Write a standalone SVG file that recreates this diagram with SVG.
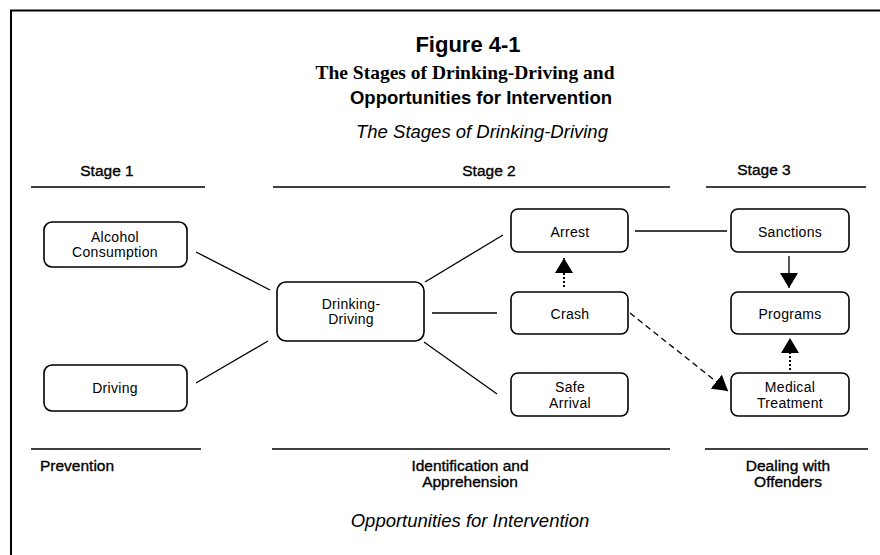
<svg xmlns="http://www.w3.org/2000/svg" width="880" height="555" viewBox="0 0 880 555">
  <style>
    .sans { font-family: "Liberation Sans", Arial, sans-serif; fill: #000; }
    .title { font-size: 22px; font-weight: bold; }
    .serifb { font-family: "Liberation Serif", "Times New Roman", serif; font-weight: bold; font-size: 19.5px; fill: #000; }
    .subb { font-size: 18.5px; font-weight: bold; }
    .ital { font-size: 18.5px; font-style: italic; }
    .head { font-size: 15.5px; stroke: #000; stroke-width: 0.35; }
    .lbl { font-size: 14px; letter-spacing: 0.3px; }
    .box { fill: #fff; stroke: #000; stroke-width: 1.6; }
    .rule { stroke: #000; stroke-width: 1.6; }
    .link { stroke: #000; stroke-width: 1.3; fill: none; }
    .dot { stroke: #000; stroke-width: 2; stroke-dasharray: 2 2; fill: none; }
    .dash { stroke: #000; stroke-width: 1.3; stroke-dasharray: 6 4; fill: none; }
  </style>
  <defs>
    <marker id="head" markerUnits="userSpaceOnUse" markerWidth="16" markerHeight="18" refX="15" refY="9" orient="auto">
      <path d="M0,0 L15,9 L0,18 Z" fill="#000"/>
    </marker>
  </defs>

  <rect width="880" height="555" fill="#fff"/>

  <!-- frame -->
  <path d="M11,555 V10.5 H880" fill="none" stroke="#000" stroke-width="2"/>

  <!-- titles -->
  <text class="sans title" x="468" y="52" text-anchor="middle">Figure 4-1</text>
  <text class="serifb" x="465" y="79" text-anchor="middle">The Stages of Drinking-Driving and</text>
  <text class="sans subb" x="481" y="104" text-anchor="middle">Opportunities for Intervention</text>
  <text class="sans ital" x="482" y="138" text-anchor="middle">The Stages of Drinking-Driving</text>

  <!-- stage headings -->
  <g id="stage-headings">
    <text class="sans head" x="107" y="176" text-anchor="middle">Stage 1</text>
    <text class="sans head" x="489" y="176" text-anchor="middle">Stage 2</text>
    <text class="sans head" x="764" y="175" text-anchor="middle">Stage 3</text>
    <line class="rule" x1="31" y1="187" x2="205" y2="187"/>
    <line class="rule" x1="273" y1="187" x2="670" y2="187"/>
    <line class="rule" x1="706" y1="187" x2="866" y2="187"/>
  </g>

  <!-- connectors -->
  <g id="connectors">
    <line class="link" x1="196" y1="252" x2="270" y2="290"/>
    <line class="link" x1="196" y1="383" x2="268" y2="341"/>
    <line class="link" x1="425" y1="282" x2="503" y2="235"/>
    <line class="link" x1="432" y1="313" x2="497" y2="313"/>
    <line class="link" x1="424" y1="342" x2="497" y2="394"/>
    <line class="link" x1="635" y1="231" x2="727" y2="231"/>
    <line class="dot" x1="564" y1="287" x2="564" y2="258" marker-end="url(#head)"/>
    <line class="link" x1="789" y1="256" x2="789" y2="288" marker-end="url(#head)"/>
    <line class="dot" x1="790" y1="370" x2="790" y2="338" marker-end="url(#head)"/>
    <line class="dash" x1="630" y1="313" x2="728" y2="391" marker-end="url(#head)"/>
  </g>

  <!-- nodes -->
  <g id="alcohol">
    <rect class="box" x="44" y="222" width="143" height="45" rx="8"/>
    <text class="sans lbl" x="115" y="242" text-anchor="middle">Alcohol</text>
    <text class="sans lbl" x="115" y="257" text-anchor="middle">Consumption</text>
  </g>
  <g id="driving">
    <rect class="box" x="44" y="365" width="143" height="46" rx="8"/>
    <text class="sans lbl" x="115" y="393" text-anchor="middle">Driving</text>
  </g>
  <g id="drinking-driving">
    <rect class="box" x="277" y="282" width="147" height="59" rx="9"/>
    <text class="sans lbl" x="351" y="309" text-anchor="middle">Drinking-</text>
    <text class="sans lbl" x="351" y="324" text-anchor="middle">Driving</text>
  </g>
  <g id="arrest">
    <rect class="box" x="511" y="209" width="117" height="43" rx="7"/>
    <text class="sans lbl" x="570" y="237" text-anchor="middle">Arrest</text>
  </g>
  <g id="crash">
    <rect class="box" x="511" y="292" width="117" height="42" rx="7"/>
    <text class="sans lbl" x="570" y="319" text-anchor="middle">Crash</text>
  </g>
  <g id="safe-arrival">
    <rect class="box" x="511" y="373" width="117" height="43" rx="7"/>
    <text class="sans lbl" x="570" y="392" text-anchor="middle">Safe</text>
    <text class="sans lbl" x="570" y="408" text-anchor="middle">Arrival</text>
  </g>
  <g id="sanctions">
    <rect class="box" x="731" y="209" width="118" height="43" rx="7"/>
    <text class="sans lbl" x="790" y="237" text-anchor="middle">Sanctions</text>
  </g>
  <g id="programs">
    <rect class="box" x="731" y="292" width="118" height="42" rx="7"/>
    <text class="sans lbl" x="790" y="319" text-anchor="middle">Programs</text>
  </g>
  <g id="medical-treatment">
    <rect class="box" x="731" y="373" width="118" height="43" rx="7"/>
    <text class="sans lbl" x="790" y="392" text-anchor="middle">Medical</text>
    <text class="sans lbl" x="790" y="408" text-anchor="middle">Treatment</text>
  </g>

  <!-- intervention opportunities -->
  <g id="interventions">
    <line class="rule" x1="31" y1="449" x2="201" y2="449"/>
    <line class="rule" x1="272" y1="449" x2="670" y2="449"/>
    <line class="rule" x1="705" y1="449" x2="868" y2="449"/>
    <text class="sans head" x="40" y="471">Prevention</text>
    <text class="sans head" x="470" y="471" text-anchor="middle">Identification and</text>
    <text class="sans head" x="470" y="487" text-anchor="middle">Apprehension</text>
    <text class="sans head" x="788" y="471" text-anchor="middle">Dealing with</text>
    <text class="sans head" x="788" y="487" text-anchor="middle">Offenders</text>
    <text class="sans ital" x="470" y="527" text-anchor="middle">Opportunities for Intervention</text>
  </g>
</svg>
